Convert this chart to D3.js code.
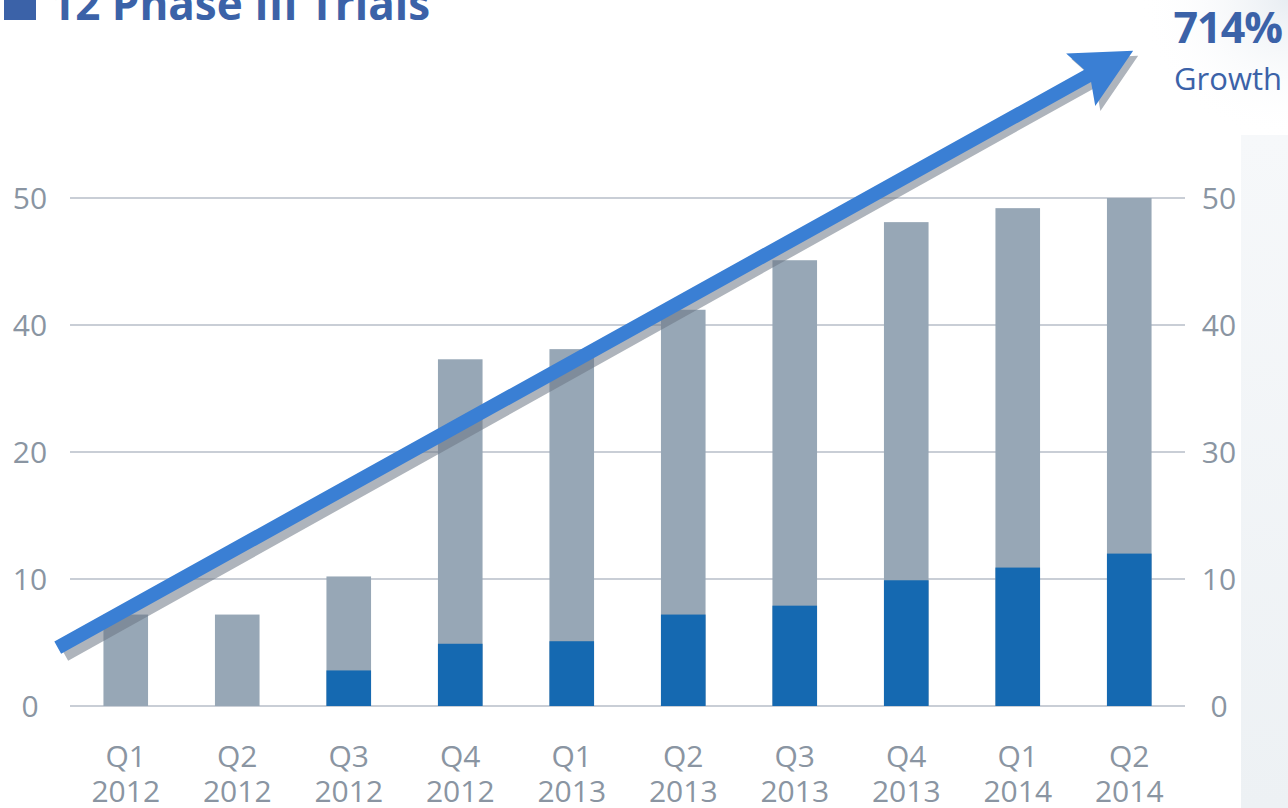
<!DOCTYPE html>
<html><head><meta charset="utf-8">
<script src="https://cdn.jsdelivr.net/npm/d3@7"></script>
<style>html,body{margin:0;padding:0;background:#fff;}svg{display:block;font-family:"Open Sans",sans-serif;}</style>
</head><body>
<script>
const quarters = ["Q1","Q2","Q3","Q4","Q1","Q2","Q3","Q4","Q1","Q2"];
const years = ["2012","2012","2012","2012","2013","2013","2013","2013","2014","2014"];
const totalValues = [7.2, 7.2, 10.2, 27.3, 28.1, 31.2, 35.1, 38.1, 39.2, 40.0];
const phase3Values = [0, 0, 2.8, 4.9, 5.1, 7.2, 7.9, 9.9, 10.9, 12.0];
const tickValues = [0, 10, 20, 30, 40];
const leftTickLabels = ["0","10","20","40","50"];
const rightTickLabels = ["0","10","30","40","50"];
const title = "12 Phase III Trials";
const growthValue = "714%";
const growthLabel = "Growth";
const arrowFrom = {index: -0.61, value: 4.6};
const arrowTo = {index: 9.035, value: 51.6};

const W = 1288, H = 808;
const svg = d3.select("body").append("svg").attr("width", W).attr("height", H);
const defs = svg.append("defs");
const g1 = defs.append("linearGradient").attr("id","side").attr("x1",0).attr("x2",0).attr("y1",0).attr("y2",1);
g1.append("stop").attr("offset","0%").attr("stop-color","#f6f8fa");
g1.append("stop").attr("offset","100%").attr("stop-color","#edf1f4");
const g2 = defs.append("radialGradient").attr("id","corner").attr("cx","100%").attr("cy","0%").attr("r","100%");
g2.append("stop").attr("offset","0%").attr("stop-color","#e8edf2");
g2.append("stop").attr("offset","100%").attr("stop-color","#ffffff").attr("stop-opacity",0);

svg.append("rect").attr("x",1140).attr("y",0).attr("width",148).attr("height",140).attr("fill","url(#corner)");
svg.append("rect").attr("x",1241).attr("y",135).attr("width",47).attr("height",H-135).attr("fill","url(#side)");

const x = d3.scaleBand().domain(d3.range(quarters.length)).range([70, 1185]).paddingInner(0.6).paddingOuter(0.3);
const y = d3.scaleLinear().domain([0, 40]).range([706, 198]);
const xi = d3.scaleLinear().domain([0, 1]).range([x(0) + x.bandwidth()/2, x(1) + x.bandwidth()/2]);

// gridlines
svg.append("g").selectAll("line").data(tickValues).join("line")
  .attr("x1", 70).attr("x2", 1185)
  .attr("y1", d => y(d)).attr("y2", d => y(d))
  .attr("stroke", "#c9ced6").attr("stroke-width", 2);

// axes labels
const leftAxis = d3.axisLeft(y).tickValues(tickValues).tickSize(0).tickFormat((d,i) => leftTickLabels[i]);
const la = svg.append("g").attr("transform","translate(30,0)").call(leftAxis);
la.select(".domain").remove();
la.selectAll("text").attr("x",0).attr("text-anchor","middle").attr("dy","0.36em")
  .attr("fill","#8a95a2").style("font-size","30px").style("font-family","Open Sans");

const rightAxis = d3.axisRight(y).tickValues(tickValues).tickSize(0).tickFormat((d,i) => rightTickLabels[i]);
const ra = svg.append("g").attr("transform","translate(1219,0)").call(rightAxis);
ra.select(".domain").remove();
ra.selectAll("text").attr("x",0).attr("text-anchor","middle").attr("dy","0.36em")
  .attr("fill","#8a95a2").style("font-size","30px").style("font-family","Open Sans");

// bars
svg.append("g").selectAll("rect").data(totalValues).join("rect")
  .attr("x", (d,i) => x(i)).attr("width", x.bandwidth())
  .attr("y", d => y(d)).attr("height", d => y(0) - y(d))
  .attr("fill", "#97a7b6");
svg.append("g").selectAll("rect").data(phase3Values).join("rect")
  .attr("x", (d,i) => x(i)).attr("width", x.bandwidth())
  .attr("y", d => y(d)).attr("height", d => y(0) - y(d))
  .attr("fill", "#1569b1");

// x labels
const xl = svg.append("g").selectAll("text").data(quarters).join("text")
  .attr("x", (d,i) => x(i) + x.bandwidth()/2)
  .attr("text-anchor","middle").attr("fill","#8a95a2")
  .style("font-size","30px");
xl.append("tspan").attr("x",(d,i)=> x(i)+x.bandwidth()/2).attr("y",767).text(d => d);
xl.append("tspan").attr("x",(d,i)=> x(i)+x.bandwidth()/2).attr("y",802).text((d,i) => years[i]);

// arrow
function arrowPath(x0,y0,x1,y1){
  const ang = Math.atan2(y1-y0, x1-x0);
  const ux = Math.cos(ang), uy = Math.sin(ang), px = -uy, py = ux;
  const hl = 60, hw = 30, sw = 7;
  const bx = x1 - ux*hl, by = y1 - uy*hl;
  const bx2 = x1 - ux*(hl-8), by2 = y1 - uy*(hl-8);
  const pts = [
    [x0 + px*sw, y0 + py*sw],
    [bx2 + px*sw, by2 + py*sw],
    [bx + px*hw, by + py*hw],
    [x1, y1],
    [bx - px*hw, by - py*hw],
    [bx2 - px*sw, by2 - py*sw],
    [x0 - px*sw, y0 - py*sw]
  ];
  return "M" + pts.map(p => p.join(",")).join("L") + "Z";
}
const ax0 = xi(arrowFrom.index), ay0 = y(arrowFrom.value), ax1 = xi(arrowTo.index), ay1 = y(arrowTo.value);
svg.append("path").attr("d", arrowPath(ax0+7, ay0+7, ax1+5, ay1+5)).attr("fill","#6b7785").attr("opacity",0.55);
svg.append("path").attr("d", arrowPath(ax0, ay0, ax1, ay1)).attr("fill","#3a7fd4");

// title
svg.append("rect").attr("x",4).attr("y",-2).attr("width",32).attr("height",22).attr("fill","#3b62a8");
svg.append("text").attr("x",50).attr("y",20).attr("fill","#3b62a8")
  .style("font-size","44px").style("font-weight","bold").text(title);

svg.append("text").attr("x",1282).attr("y",43).attr("text-anchor","end").attr("fill","#3b62a8")
  .style("font-size","43px").style("font-weight","bold").style("letter-spacing","-1px").text(growthValue);
svg.append("text").attr("x",1282).attr("y",90).attr("text-anchor","end").attr("fill","#3b62a8")
  .style("font-size","31px").text(growthLabel);
</script>
</body></html>
